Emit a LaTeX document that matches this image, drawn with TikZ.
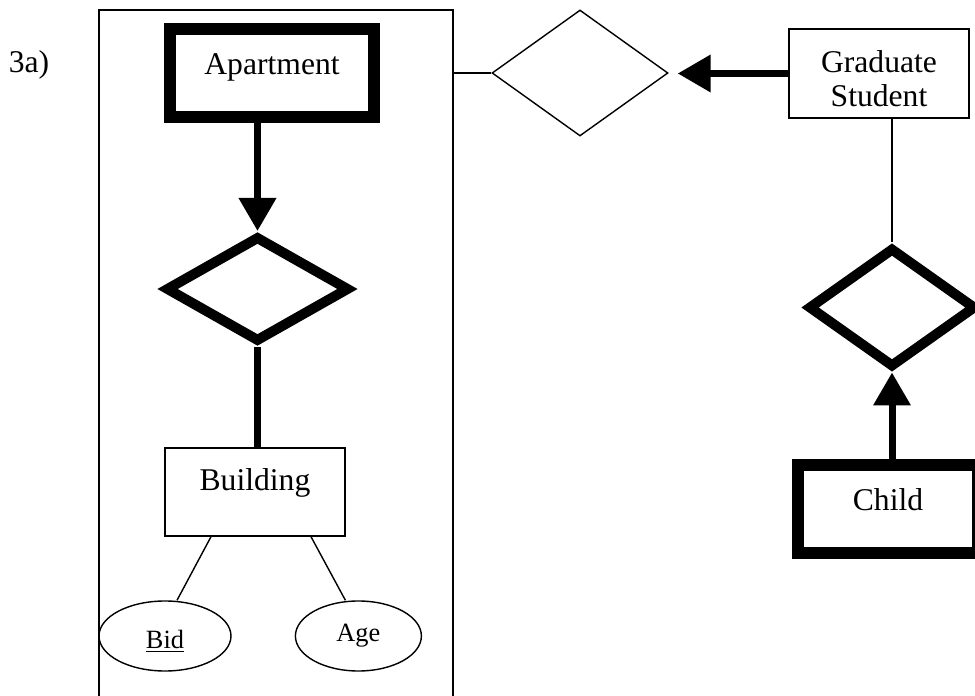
\documentclass[tikz,border=0pt]{standalone}
\usepackage{fontspec}
\setmainfont{Liberation Serif}
\usepackage{tikz}
\usetikzlibrary{arrows.meta,positioning,shapes.geometric,calc}
\newcommand{\entfont}{\fontsize{18}{19}\selectfont}
\newcommand{\attfont}{\fontsize{15}{17}\selectfont}
\tikzset{
  entity/.style={
    rectangle, draw, line width=0.8pt,
    minimum width=3.6cm, minimum height=1.76cm,
    font=\entfont, inner sep=0pt
  },
  weakent/.style={
    entity, line width=0.24cm
  },
  relship/.style={
    diamond, draw, line width=0.8pt, inner sep=0pt
  },
  idrel/.style={
    relship, line width=0.2cm
  },
  attr/.style={
    ellipse, draw, line width=0.8pt, inner sep=0pt,
    minimum height=1.4cm, font=\attfont
  },
  aggbox/.style={
    rectangle, draw, line width=0.8pt, inner sep=0pt
  },
  link/.style={line width=0.8pt},
  total/.style={line width=0.14cm},
  keyarrow/.style={
    -{Triangle[length=0.66cm,width=0.72cm]}, line width=0.14cm
  },
}

\begin{document}
\begin{tikzpicture}
\useasboundingbox (0,0) rectangle (19.5,-13.92);
\clip (0,0) rectangle (19.5,-13.92);

% left part: aggregation
\node[font=\entfont] (lbl) at (0.58,-1.30) {3a)};
\node[aggbox, minimum width=7.08cm, minimum height=14.2cm] (agg) at (5.52,-7.30) {};
\node[weakent, minimum width=4.08cm, text height=0.68em, text depth=0.53em] (apt) at (5.44,-1.46) {Apartment};
\node[idrel, minimum width=3.68cm, minimum height=2.12cm] (d1) at (5.15,-5.78) {};
\node[entity, text height=0.68em, text depth=0.9em] (bld) at (5.10,-9.84) {Building};
\node[attr, minimum width=2.64cm] (bid) at (3.30,-12.72)
  {\raisebox{-0.25cm}[0pt][0pt]{\underline{Bid}}\hspace{0.06cm}};
\node[attr, minimum width=2.52cm, right=1.26cm of bid] (age) {Age\hspace{0.46cm}};

% right part
\node[relship, minimum width=3.52cm, minimum height=2.52cm] (d0) at (11.60,-1.46) {};
\node[entity, minimum height=1.78cm] (gs) at (17.58,-1.47)
  {\raisebox{-0.34cm}[0pt][0pt]{\begin{tabular}{@{}c@{}}Graduate\\Student\end{tabular}}};
\node[idrel, minimum width=3.36cm, minimum height=2.4cm] (d2) at (17.84,-6.15) {};
\node[weakent, text height=0.68em, text depth=0.53em] (chd) at (17.76,-10.18) {Child};

\draw[keyarrow] (d1.north |- apt.south) -- (d1.north);
\draw[total] (d1.south) -- (d1.south |- bld.north);
\draw[link] ([xshift=-0.88cm]bld.south) -- ([xshift=0.24cm]bid.north);
\draw[link] ([xshift=1.12cm]bld.south) -- ([xshift=-0.26cm]age.north);
\draw[link] (agg.east |- d0.west) -- (d0.west);
\draw[keyarrow, shorten >=0.18cm] (gs.west) -- (gs.west -| d0.east);
\draw[link] (d2.north |- gs.south) -- (d2.north);
\draw[keyarrow] (d2.south |- chd.north) -- (d2.south);
\end{tikzpicture}
\end{document}
